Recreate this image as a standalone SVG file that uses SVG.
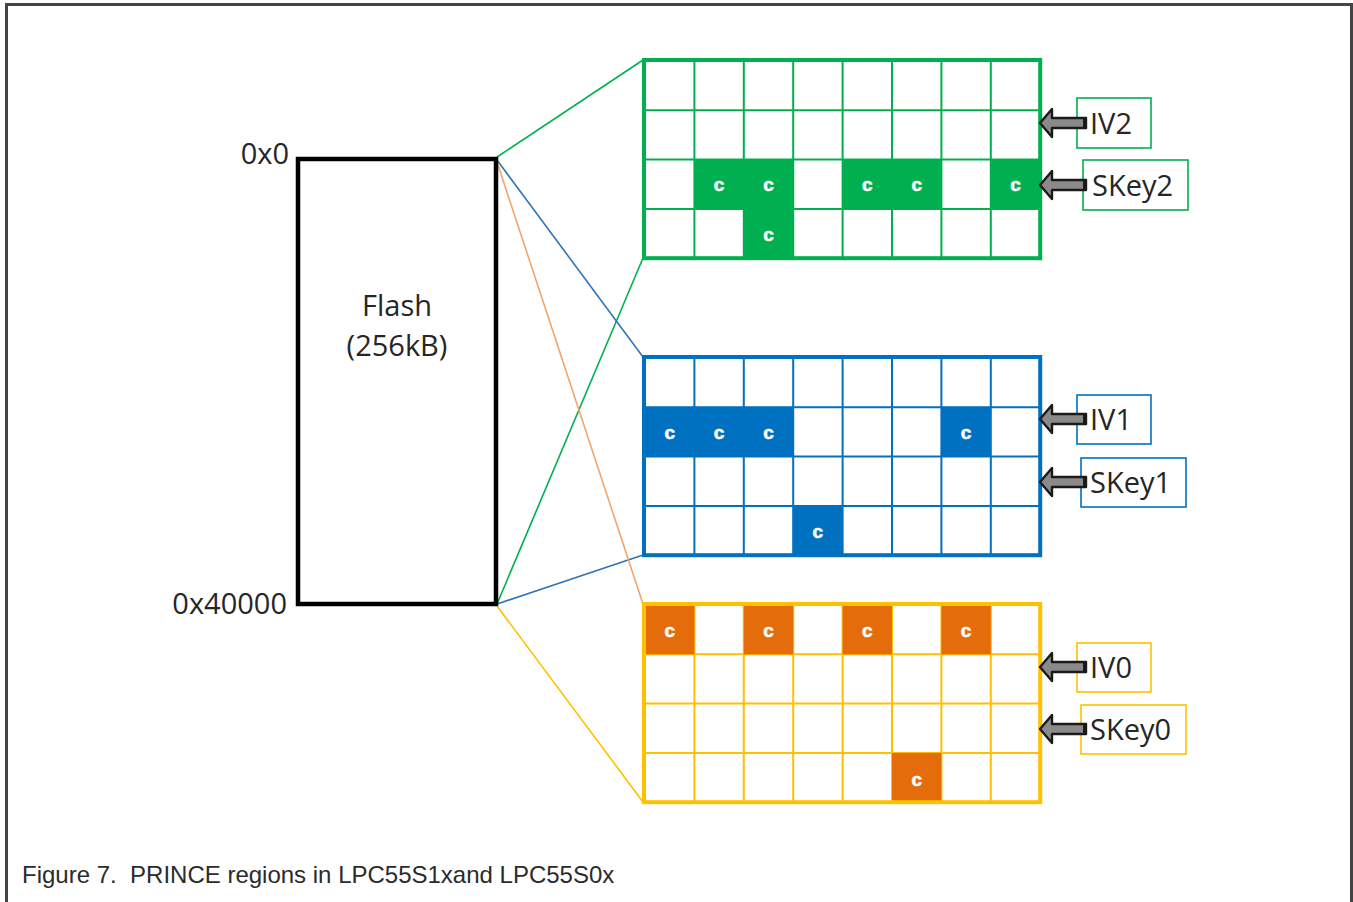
<svg xmlns="http://www.w3.org/2000/svg" xmlns:xlink="http://www.w3.org/1999/xlink" width="1353" height="902" viewBox="0 0 1353 902">
<style>
.lbl{font-family:"Open Sans","Liberation Sans",sans-serif;font-size:29px;fill:#262626}
.c{font-family:"Liberation Sans",Arial,sans-serif;font-size:19px;font-weight:bold;fill:#ffffff;text-anchor:middle;stroke:#ffffff;stroke-width:0.6}
.cap{font-family:"Liberation Sans",Arial,sans-serif;font-size:24px;fill:#2b2b2b;white-space:pre}
.box{fill:none;stroke-width:1.6}
.outer{fill:none;stroke-width:4}
.conn{fill:none;stroke-width:1.6}
</style>
<defs>
<path id="gl" fill="none" stroke-width="2" d="M49.4,0V197.2M98.8,0V197.2M148.2,0V197.2M197.6,0V197.2M247,0V197.2M296.4,0V197.2M345.8,0V197.2M0,49.3H395.2M0,98.6H395.2M0,147.9H395.2"/>
<g id="arr">
<path d="M0,0 L12,-14 L12,-5 L46,-5 L46,5 L12,5 L12,14 Z" fill="#8a8a8a" stroke="#1a1a1a" stroke-width="2.4" stroke-linejoin="round"/>
<rect x="43" y="-5" width="4" height="10" fill="#1a1a1a"/>
</g>
</defs>
<rect x="0" y="0" width="1353" height="902" fill="#ffffff"/>
<g id="frame" fill="none">
<path d="M6.5,902V4.5H1351.5V902" stroke="#444444" stroke-width="3"/>
</g>

<g id="connectors">
<line class="conn" stroke="#00B050" x1="497" y1="157" x2="643" y2="60"/>
<line class="conn" stroke="#00B050" x1="497" y1="604" x2="643" y2="258"/>
<line class="conn" stroke="#2E75B6" x1="497" y1="160" x2="643" y2="357"/>
<line class="conn" stroke="#2E75B6" x1="497" y1="604" x2="643" y2="555"/>
<line class="conn" stroke="#F4A46A" x1="497" y1="162" x2="643" y2="604"/>
<line class="conn" stroke="#FFC000" x1="497" y1="606" x2="643" y2="802"/>
</g>

<g id="flash">
<rect x="298" y="159" width="198" height="445" fill="#ffffff" stroke="#000000" stroke-width="4.5"/>
<text class="lbl" x="397" y="316" text-anchor="middle">Flash</text>
<text class="lbl" x="397" y="356" text-anchor="middle">(256kB)</text>
<text class="lbl" x="289" y="164" text-anchor="end">0x0</text>
<text class="lbl" x="287" y="614" text-anchor="end">0x40000</text>
</g>

<g id="region2" transform="translate(645,61)">
<use xlink:href="#gl" stroke="#00B050"/>
<g fill="#00B050">
<rect x="49.4" y="98.6" width="98.8" height="49.3"/>
<rect x="98.8" y="147.9" width="49.4" height="49.3"/>
<rect x="197.6" y="98.6" width="98.8" height="49.3"/>
<rect x="345.8" y="98.6" width="49.4" height="49.3"/>
</g>
<rect class="outer" stroke="#00B050" x="-1" y="-1" width="396.2" height="198.2"/>
<text class="c" x="74.1" y="130">c</text>
<text class="c" x="123.5" y="130">c</text>
<text class="c" x="222.3" y="130">c</text>
<text class="c" x="271.7" y="130">c</text>
<text class="c" x="370.5" y="130">c</text>
<text class="c" x="123.5" y="180">c</text>
</g>

<g id="region1" transform="translate(645,358)">
<use xlink:href="#gl" stroke="#0070C0"/>
<g fill="#0070C0">
<rect x="0" y="49.3" width="148.2" height="49.3"/>
<rect x="296.4" y="49.3" width="49.4" height="49.3"/>
<rect x="148.2" y="147.9" width="49.4" height="49.3"/>
</g>
<rect class="outer" stroke="#0070C0" x="-1" y="-1" width="396.2" height="198.2"/>
<text class="c" x="24.7" y="81">c</text>
<text class="c" x="74.1" y="81">c</text>
<text class="c" x="123.5" y="81">c</text>
<text class="c" x="321.1" y="81">c</text>
<text class="c" x="172.9" y="180">c</text>
</g>

<g id="region0" transform="translate(645,605)">
<use xlink:href="#gl" stroke="#FFC000"/>
<g fill="#E46C0A">
<rect x="0" y="0" width="49.4" height="49.3"/>
<rect x="98.8" y="0" width="49.4" height="49.3"/>
<rect x="197.6" y="0" width="49.4" height="49.3"/>
<rect x="296.4" y="0" width="49.4" height="49.3"/>
<rect x="247" y="147.9" width="49.4" height="49.3"/>
</g>
<rect class="outer" stroke="#FFC000" x="-1" y="-1" width="396.2" height="198.2"/>
<text class="c" x="24.7" y="32">c</text>
<text class="c" x="123.5" y="32">c</text>
<text class="c" x="222.3" y="32">c</text>
<text class="c" x="321.1" y="32">c</text>
<text class="c" x="271.7" y="181">c</text>
</g>

<g id="iv2">
<rect class="box" stroke="#00B050" x="1077" y="98" width="74" height="50"/>
<use xlink:href="#arr" transform="translate(1040,123)"/>
<text class="lbl" x="1090" y="134">IV2</text>
</g>
<g id="skey2">
<rect class="box" stroke="#00B050" x="1083" y="160" width="105" height="50"/>
<use xlink:href="#arr" transform="translate(1040,185)"/>
<text class="lbl" x="1092" y="196">SKey2</text>
</g>
<g id="iv1">
<rect class="box" stroke="#0070C0" x="1077" y="395" width="74" height="49"/>
<use xlink:href="#arr" transform="translate(1040,419)"/>
<text class="lbl" x="1090" y="430">IV1</text>
</g>
<g id="skey1">
<rect class="box" stroke="#0070C0" x="1081" y="458" width="105" height="49"/>
<use xlink:href="#arr" transform="translate(1040,482)"/>
<text class="lbl" x="1090" y="493">SKey1</text>
</g>
<g id="iv0">
<rect class="box" stroke="#FFC000" x="1077" y="643" width="74" height="49"/>
<use xlink:href="#arr" transform="translate(1040,667)"/>
<text class="lbl" x="1090" y="678">IV0</text>
</g>
<g id="skey0">
<rect class="box" stroke="#FFC000" x="1081" y="705" width="105" height="49"/>
<use xlink:href="#arr" transform="translate(1040,729)"/>
<text class="lbl" x="1090" y="740">SKey0</text>
</g>

<g id="caption">
<text class="cap" x="22" y="883" xml:space="preserve">Figure 7.  PRINCE regions in LPC55S1xand LPC55S0x</text>
</g>
</svg>
